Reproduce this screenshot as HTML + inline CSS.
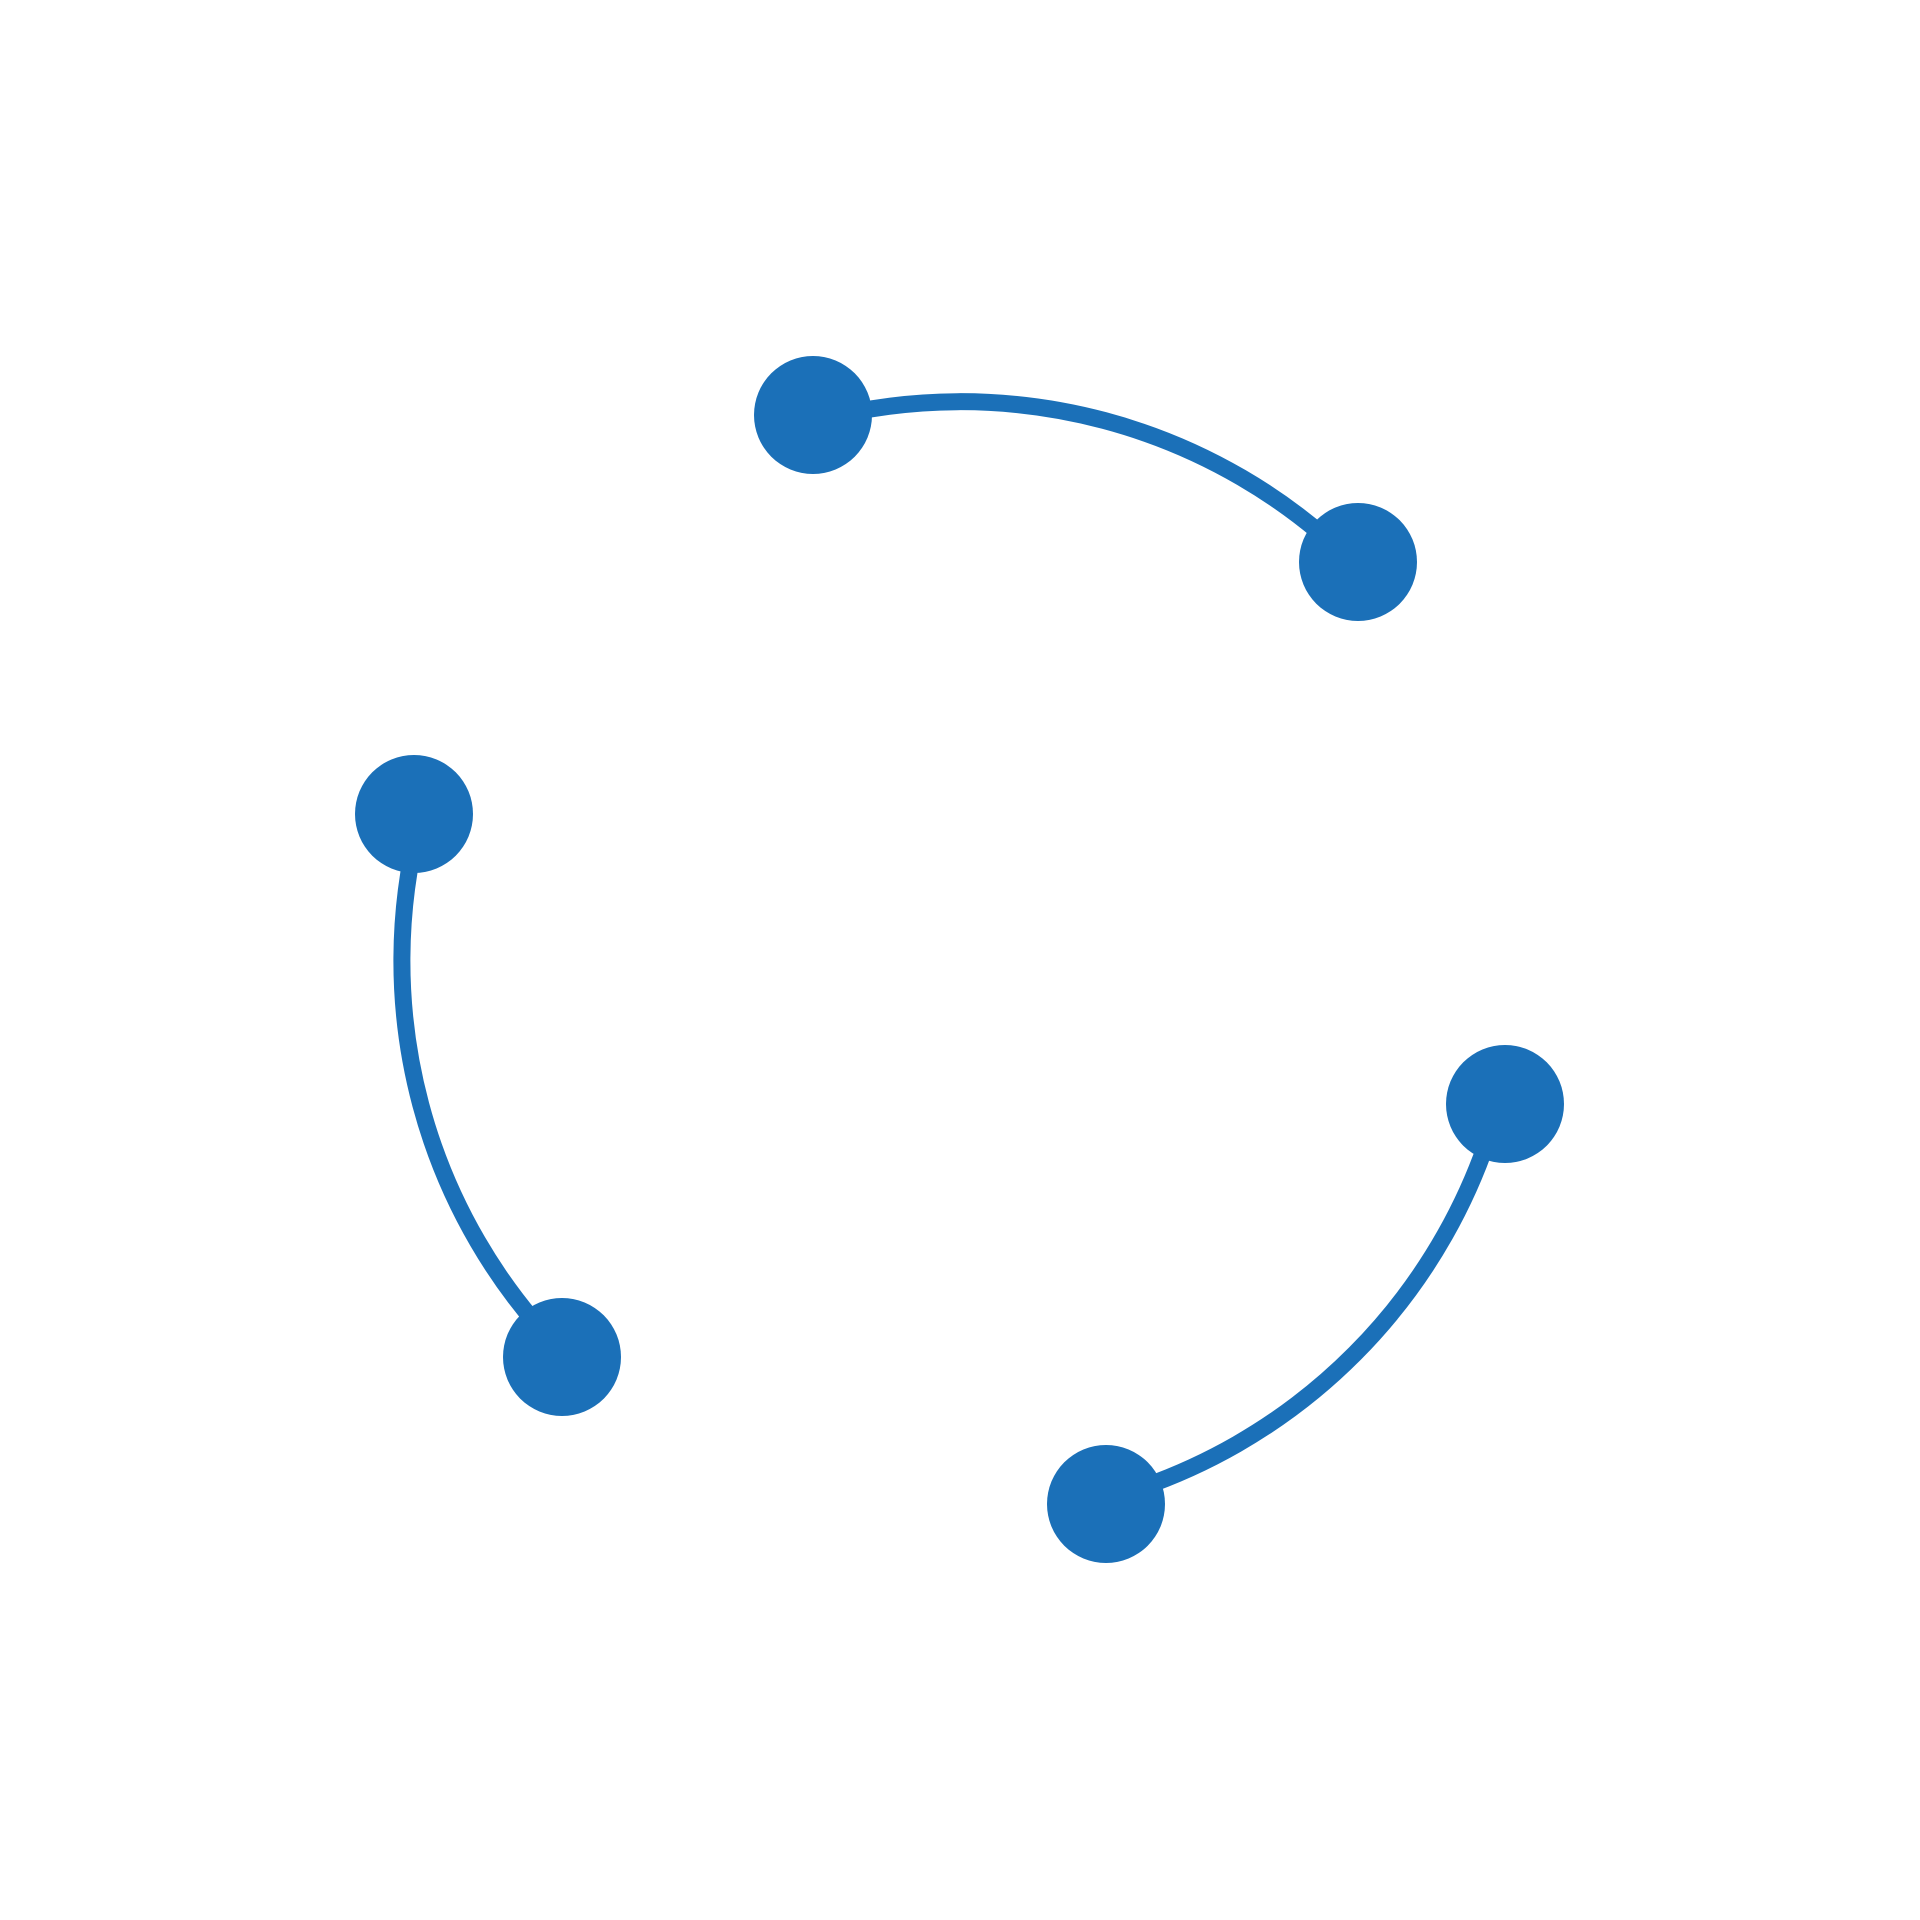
<!DOCTYPE html>
<html><head><meta charset="utf-8"><style>html,body{margin:0;padding:0;background:#fff}svg{display:block}</style></head>
<body>
<svg width="1920" height="1920" viewBox="0 0 1920 1920" xmlns="http://www.w3.org/2000/svg">
<rect width="1920" height="1920" fill="#fff"/>
<g fill="none" stroke="#1b70b8" stroke-width="17">
<path d="M815 421 A558 558 0 0 1 1355 565"/>
<path d="M421 816 A558 558 0 0 0 565 1355"/>
<path d="M1499 1102 A558 558 0 0 1 1104 1499"/>
</g>
<g fill="#1b70b8">
<circle cx="813" cy="415" r="59"/>
<circle cx="1358" cy="562" r="59"/>
<circle cx="414" cy="814" r="59"/>
<circle cx="562" cy="1357" r="59"/>
<circle cx="1505" cy="1104" r="59"/>
<circle cx="1106" cy="1504" r="59"/>
</g>
</svg>
</body></html>
